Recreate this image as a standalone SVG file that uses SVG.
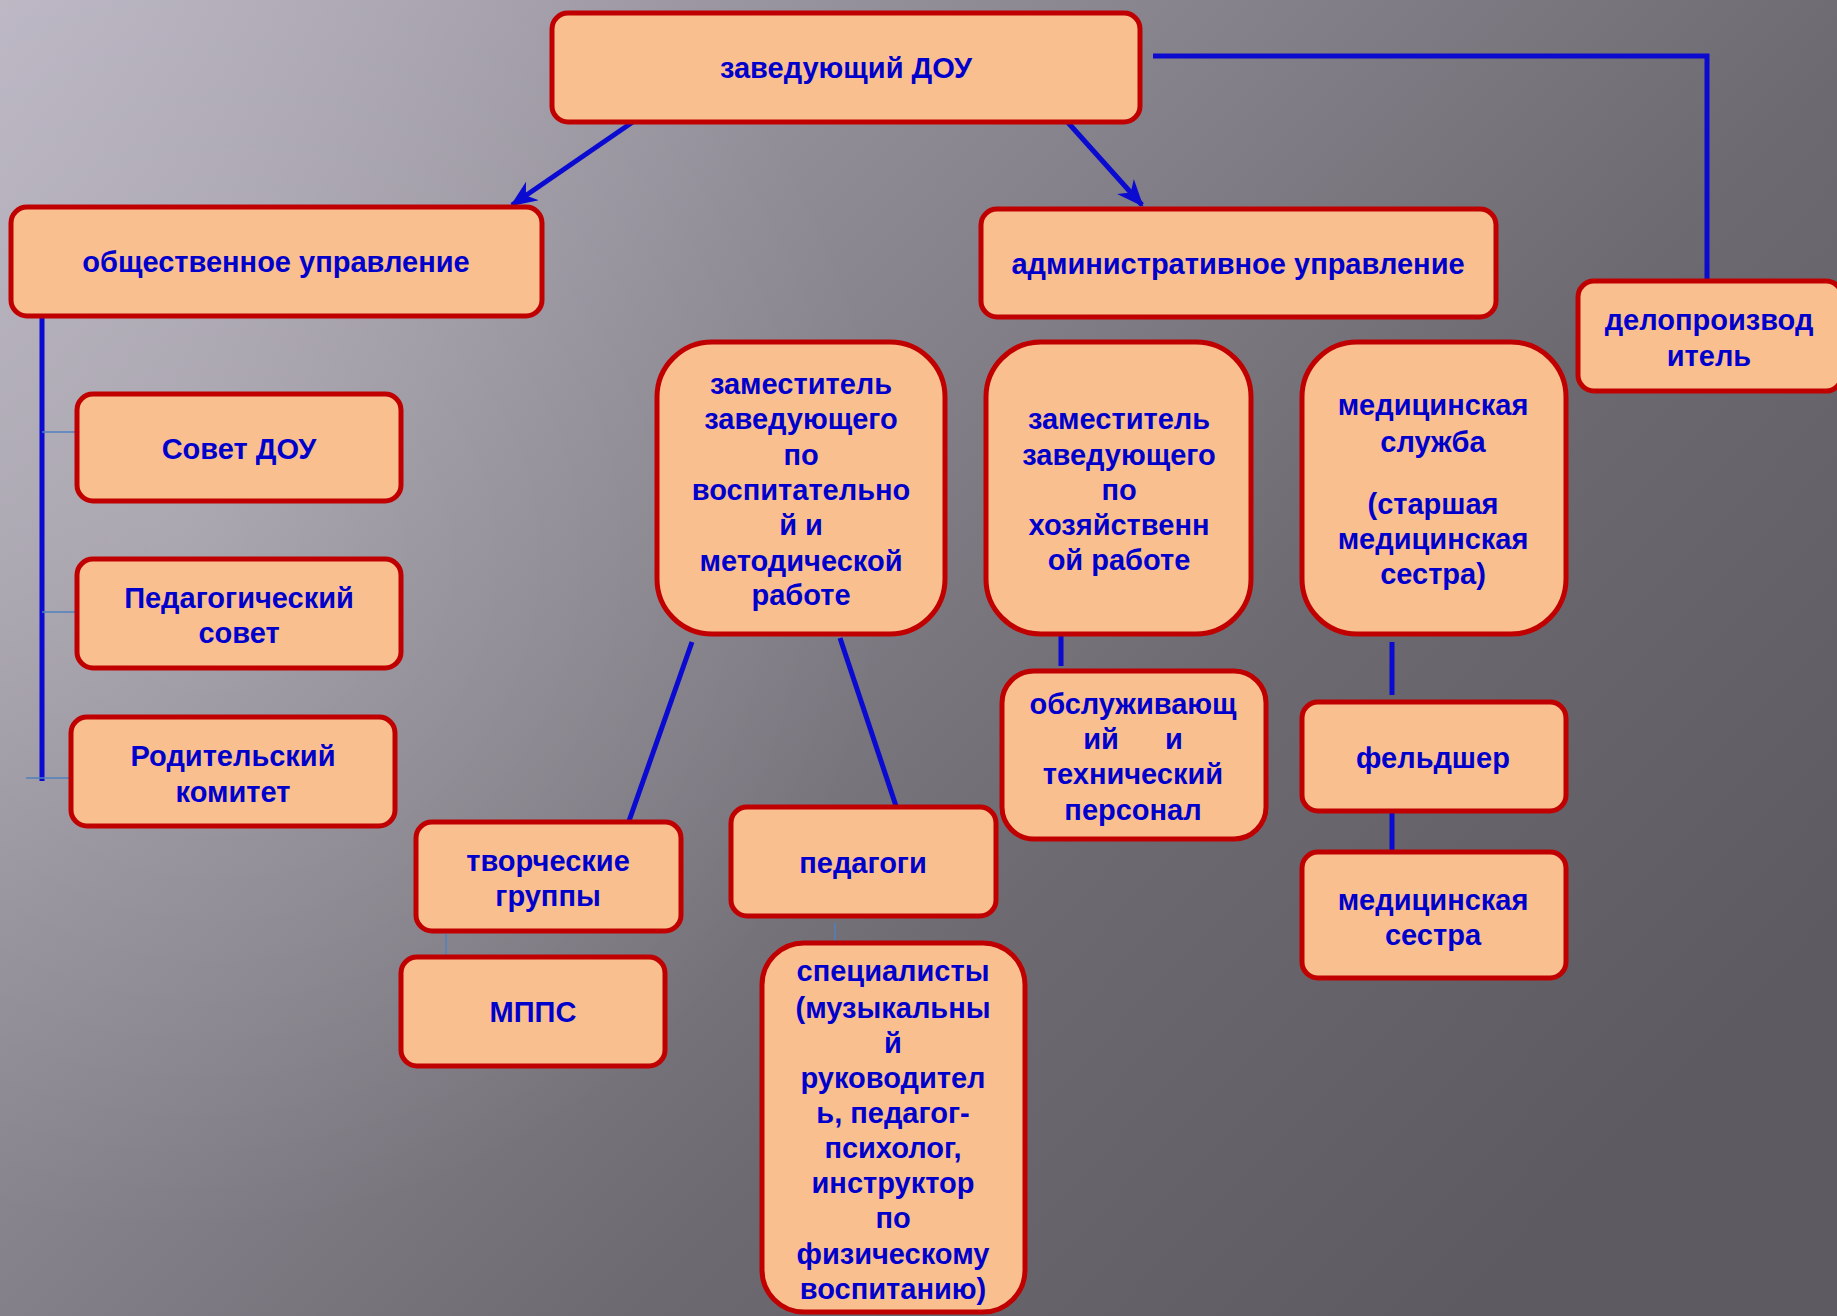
<svg xmlns="http://www.w3.org/2000/svg" width="1837" height="1316" viewBox="0 0 1837 1316">
<defs>
<linearGradient id="bg" x1="0" y1="0" x2="1" y2="0.7">
<stop offset="0" stop-color="#bab5c2"/>
<stop offset="0.35" stop-color="#908c96"/>
<stop offset="0.7" stop-color="#6c6970"/>
<stop offset="1" stop-color="#5d5a61"/>
</linearGradient>
<radialGradient id="glow" cx="180" cy="520" r="720" gradientUnits="userSpaceOnUse">
<stop offset="0" stop-color="#ffffff" stop-opacity="0.16"/>
<stop offset="1" stop-color="#ffffff" stop-opacity="0"/>
</radialGradient>
<marker id="arr" viewBox="0 0 12 10" refX="11" refY="5" markerWidth="5.5" markerHeight="4.5" orient="auto" markerUnits="strokeWidth">
<path d="M0,0 L12,5 L0,10 L3.5,5 z" fill="#0a0ad0"/>
</marker>
<style>
.box{fill:#f9bf8f;stroke:#c00000;stroke-width:5}
.t{font-family:"Liberation Sans",Arial,sans-serif;font-weight:bold;font-size:29px;fill:#0000cc;text-anchor:middle}
.c{stroke:#0a0ad0;stroke-width:5;fill:none}
.thin{stroke:#4f81bd;stroke-width:1.5;fill:none}
</style>
</defs>
<rect width="1837" height="1316" fill="url(#bg)"/>
<rect width="1837" height="1316" fill="url(#glow)"/>

<g id="connectors">
<line class="c" x1="640" y1="117" x2="512" y2="205" marker-end="url(#arr)"/>
<line class="c" x1="1063" y1="117" x2="1142" y2="205" marker-end="url(#arr)"/>
<polyline class="c" points="1153,56 1707,56 1707,280"/>
<line class="c" x1="42" y1="314" x2="42" y2="781"/>
<line class="thin" x1="42" y1="432" x2="85" y2="432"/>
<line class="thin" x1="42" y1="612" x2="85" y2="612"/>
<line class="thin" x1="26" y1="778" x2="72" y2="778"/>
<line class="c" x1="692" y1="642" x2="629" y2="821"/>
<line class="c" x1="840" y1="638" x2="896" y2="806"/>
<line class="thin" x1="446" y1="934" x2="446" y2="957"/>
<line class="thin" x1="835" y1="923" x2="835" y2="942"/>
<line class="c" x1="1061" y1="636" x2="1061" y2="666"/>
<line class="c" x1="1392" y1="642" x2="1392" y2="695"/>
<line class="c" x1="1392" y1="807" x2="1392" y2="852"/>
</g>

<g id="n-head">
<rect class="box" x="552" y="13" width="588" height="109" rx="16"/>
<text class="t" x="846" y="78">заведующий ДОУ</text>
</g>
<g id="n-public">
<rect class="box" x="11" y="207" width="531" height="109" rx="16"/>
<text class="t" x="276" y="272">общественное управление</text>
</g>
<g id="n-admin">
<rect class="box" x="981" y="209" width="515" height="108" rx="16"/>
<text class="t" x="1238" y="274">административное управление</text>
</g>
<g id="n-clerk">
<rect class="box" x="1578" y="281" width="264" height="110" rx="16"/>
<text class="t" x="1709" y="330">делопроизвод</text>
<text class="t" x="1709" y="366">итель</text>
</g>
<g id="n-council">
<rect class="box" x="77" y="394" width="324" height="107" rx="16"/>
<text class="t" x="239" y="459">Совет ДОУ</text>
</g>
<g id="n-pedcouncil">
<rect class="box" x="77" y="559" width="324" height="109" rx="16"/>
<text class="t" x="239" y="608">Педагогический</text>
<text class="t" x="239" y="643">совет</text>
</g>
<g id="n-parents">
<rect class="box" x="71" y="717" width="324" height="109" rx="16"/>
<text class="t" x="233" y="766">Родительский</text>
<text class="t" x="233" y="802">комитет</text>
</g>
<g id="n-deputy-edu">
<rect class="box" x="657" y="342" width="288" height="292" rx="55"/>
<text class="t" x="801" y="394">заместитель</text>
<text class="t" x="801" y="429">заведующего</text>
<text class="t" x="801" y="465">по</text>
<text class="t" x="801" y="500">воспитательно</text>
<text class="t" x="801" y="535">й и</text>
<text class="t" x="801" y="571">методической</text>
<text class="t" x="801" y="605">работе</text>
</g>
<g id="n-deputy-eco">
<rect class="box" x="986" y="342" width="265" height="292" rx="55"/>
<text class="t" x="1119" y="429">заместитель</text>
<text class="t" x="1119" y="465">заведующего</text>
<text class="t" x="1119" y="500">по</text>
<text class="t" x="1119" y="535">хозяйственн</text>
<text class="t" x="1119" y="570">ой работе</text>
</g>
<g id="n-medservice">
<rect class="box" x="1302" y="342" width="264" height="292" rx="55"/>
<text class="t" x="1433" y="415">медицинская</text>
<text class="t" x="1433" y="452">служба</text>
<text class="t" x="1433" y="514">(старшая</text>
<text class="t" x="1433" y="549">медицинская</text>
<text class="t" x="1433" y="584">сестра)</text>
</g>
<g id="n-staff">
<rect class="box" x="1002" y="671" width="264" height="168" rx="32"/>
<text class="t" x="1133" y="714">обслуживающ</text>
<text class="t" y="749"><tspan x="1101">ий</tspan><tspan x="1174">и</tspan></text>
<text class="t" x="1133" y="784">технический</text>
<text class="t" x="1133" y="820">персонал</text>
</g>
<g id="n-feldsher">
<rect class="box" x="1302" y="702" width="264" height="109" rx="16"/>
<text class="t" x="1433" y="768">фельдшер</text>
</g>
<g id="n-nurse">
<rect class="box" x="1302" y="852" width="264" height="126" rx="16"/>
<text class="t" x="1433" y="910">медицинская</text>
<text class="t" x="1433" y="945">сестра</text>
</g>
<g id="n-creative">
<rect class="box" x="416" y="822" width="265" height="109" rx="16"/>
<text class="t" x="548" y="871">творческие</text>
<text class="t" x="548" y="906">группы</text>
</g>
<g id="n-teachers">
<rect class="box" x="731" y="807" width="265" height="109" rx="16"/>
<text class="t" x="863" y="873">педагоги</text>
</g>
<g id="n-mpps">
<rect class="box" x="401" y="957" width="264" height="109" rx="16"/>
<text class="t" x="533" y="1022">МППС</text>
</g>
<g id="n-specialists">
<rect class="box" x="762" y="943" width="263" height="369" rx="42"/>
<text class="t" x="893" y="981">специалисты</text>
<text class="t" x="893" y="1018">(музыкальны</text>
<text class="t" x="893" y="1053">й</text>
<text class="t" x="893" y="1088">руководител</text>
<text class="t" x="893" y="1123">ь, педагог-</text>
<text class="t" x="893" y="1158">психолог,</text>
<text class="t" x="893" y="1193">инструктор</text>
<text class="t" x="893" y="1228">по</text>
<text class="t" x="893" y="1264">физическому</text>
<text class="t" x="893" y="1299">воспитанию)</text>
</g>
</svg>
